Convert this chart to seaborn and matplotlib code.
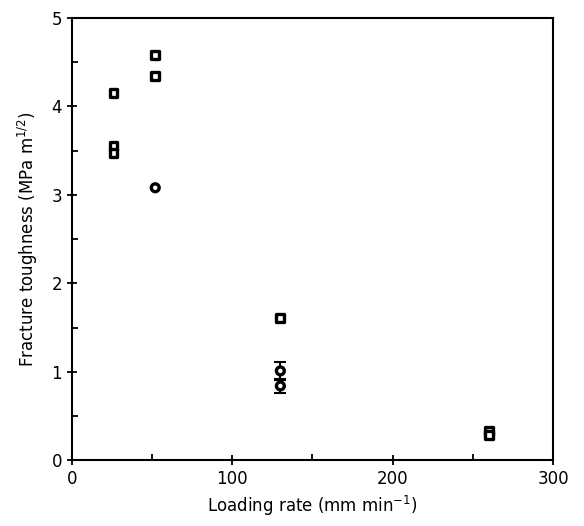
import matplotlib
matplotlib.use("Agg")
import matplotlib.pyplot as plt
import seaborn as sns
import pandas as pd
from matplotlib.ticker import MultipleLocator

# data
sq_rate = [26, 26, 26, 52, 52, 130, 260, 260]
sq_k = [4.15, 3.55, 3.47, 4.58, 4.34, 1.61, 0.33, 0.29]
ci_rate = [52, 130, 130]
ci_k = [3.08, 1.01, 0.84]
ci_err = [0.0, 0.10, 0.08]

sns.set_style("ticks", {"axes.edgecolor": "black", "xtick.color": "black",
                        "ytick.color": "black", "text.color": "black",
                        "axes.labelcolor": "black"})
plt.rcParams["font.family"] = ["DejaVu Sans"]

df = pd.DataFrame({
    "rate": sq_rate + ci_rate,
    "K": sq_k + ci_k,
    "kind": ["square"] * len(sq_rate) + ["circle"] * len(ci_rate),
})

fig = plt.figure(figsize=(5.84, 5.26), dpi=100)
ax = fig.add_axes([0.123, 0.125, 0.824, 0.841])

eb = [(r, k, e) for r, k, e in zip(ci_rate, ci_k, ci_err) if e > 0]
ax.errorbar([r for r, _, _ in eb], [k for _, k, _ in eb], yerr=[e for _, _, e in eb],
            fmt="none", ecolor="black", elinewidth=1.5, capsize=4, capthick=1.5, zorder=2)

sns.scatterplot(data=df, x="rate", y="K", style="kind",
                markers={"square": "s", "circle": "o"}, s=32,
                facecolor="white", edgecolor="black", linewidth=2.4,
                legend=False, ax=ax, zorder=3)

ax.set_xlim(0, 300)
ax.set_ylim(0, 5)
ax.xaxis.set_major_locator(MultipleLocator(100))
ax.xaxis.set_minor_locator(MultipleLocator(50))
ax.yaxis.set_major_locator(MultipleLocator(1))
ax.yaxis.set_minor_locator(MultipleLocator(0.5))
ax.tick_params(which="major", direction="inout", length=7, width=1.3, labelsize=12)
ax.tick_params(which="minor", direction="in", length=4, width=1.3)
for sp in ax.spines.values():
    sp.set_linewidth(1.5)

ax.set_xlabel("Loading rate (mm min$^{-1}$)", fontsize=12)
ax.set_ylabel("Fracture toughness (MPa m$^{1/2}$)", fontsize=12, labelpad=8)

fig.savefig("out.png", dpi=100)
